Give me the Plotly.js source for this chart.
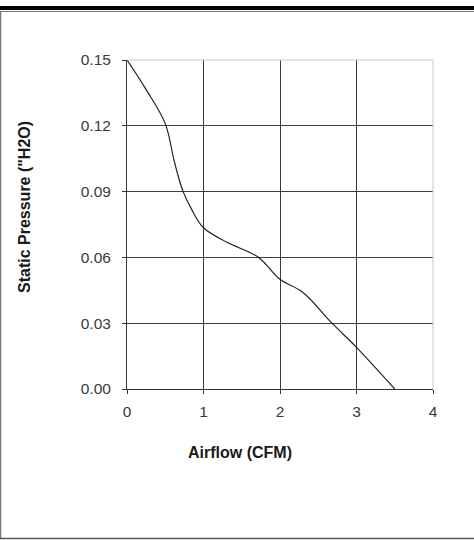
<!DOCTYPE html>
<html><head><meta charset="utf-8">
<script src="https://cdn.plot.ly/plotly-3.0.1.min.js"></script>
<style>html,body{margin:0;padding:0;background:#fff;overflow:hidden}#c{width:474px;height:540px}</style>
</head><body><div id="c"></div>
<script>
const airflow = [0, 0.25, 0.5, 0.61, 0.67, 0.734, 0.843, 1.0, 1.3, 1.72, 2.0, 2.3, 2.68, 3.0, 3.5];
const pressure = [0.15, 0.1365, 0.121, 0.105, 0.097, 0.09, 0.082, 0.0735, 0.067, 0.06, 0.05, 0.044, 0.03, 0.019, 0.0];
const xTicks = [0, 1, 2, 3, 4];
const yTicks = [0, 0.03, 0.06, 0.09, 0.12, 0.15];
const yTickText = ['0.00', '0.03', '0.06', '0.09', '0.12', '0.15'];

const W = 474, H = 540, L = 127, R = 41, T = 60, B = 151;
const pw = W - L - R, ph = H - T - B;
const px = v => (v - L) / pw;
const py = v => (H - B - v) / ph;

const tickFont = {family: 'Liberation Sans, Arial, sans-serif', size: 15.5, color: '#3a3a3a'};
const titleFont = {family: 'Liberation Sans, Arial, sans-serif', size: 16, color: '#1a1a1a'};

const trace = {
  x: airflow, y: pressure, type: 'scatter', mode: 'lines',
  line: {color: '#222', width: 1.2, shape: 'spline', smoothing: 1},
  hoverinfo: 'skip'
};

const layout = {
  width: W, height: H,
  margin: {l: L, r: R, t: T, b: B, pad: 0},
  paper_bgcolor: '#fff', plot_bgcolor: '#fff',
  showlegend: false,
  font: tickFont,
  xaxis: {
    range: [0, 4], tickvals: xTicks, ticktext: xTicks.map(String),
    showgrid: true, gridcolor: '#3c3c3c', gridwidth: 1,
    zeroline: false, showline: true, linecolor: '#333', linewidth: 1,
    ticks: 'outside', ticklen: 4, tickcolor: '#333', ticklabelstandoff: 4,
    tickfont: tickFont, fixedrange: true
  },
  yaxis: {
    range: [0, 0.15], tickvals: yTicks, ticktext: yTickText,
    showgrid: true, gridcolor: '#3c3c3c', gridwidth: 1,
    zeroline: false, showline: true, linecolor: '#333', linewidth: 1,
    ticks: 'outside', ticklen: 4, tickcolor: '#333', ticklabelstandoff: 8,
    tickfont: tickFont, fixedrange: true
  },
  annotations: [
    {text: '<b>Airflow (CFM)</b>', xref: 'paper', yref: 'paper', x: px(240), y: py(452),
     showarrow: false, xanchor: 'center', yanchor: 'middle', font: titleFont},
    {text: '<b>Static Pressure ("H2O)</b>', xref: 'paper', yref: 'paper', x: px(24), y: py(207),
     showarrow: false, xanchor: 'center', yanchor: 'middle', textangle: -90, font: titleFont}
  ],
  shapes: [
    {type: 'line', xref: 'paper', yref: 'paper', x0: 0, x1: 1, y0: 1, y1: 1, line: {color: '#c8c8c8', width: 1}},
    {type: 'line', xref: 'paper', yref: 'paper', x0: 1, x1: 1, y0: 0, y1: 1, line: {color: '#c8c8c8', width: 1}},
    {type: 'rect', xref: 'paper', yref: 'paper', x0: px(0), x1: px(474), y0: py(6), y1: py(10),
     fillcolor: '#000', line: {width: 0}},
    {type: 'line', xref: 'paper', yref: 'paper', x0: px(0), x1: px(474), y0: py(11.5), y1: py(11.5),
     line: {color: '#777', width: 1}},
    {type: 'line', xref: 'paper', yref: 'paper', x0: px(0.5), x1: px(0.5), y0: py(11), y1: py(539),
     line: {color: '#777', width: 1.5}},
    {type: 'line', xref: 'paper', yref: 'paper', x0: px(0), x1: px(474), y0: py(538.5), y1: py(538.5),
     line: {color: '#555', width: 1.5}}
  ]
};

Plotly.newPlot('c', [trace], layout, {staticPlot: true, displayModeBar: false});
</script></body></html>
